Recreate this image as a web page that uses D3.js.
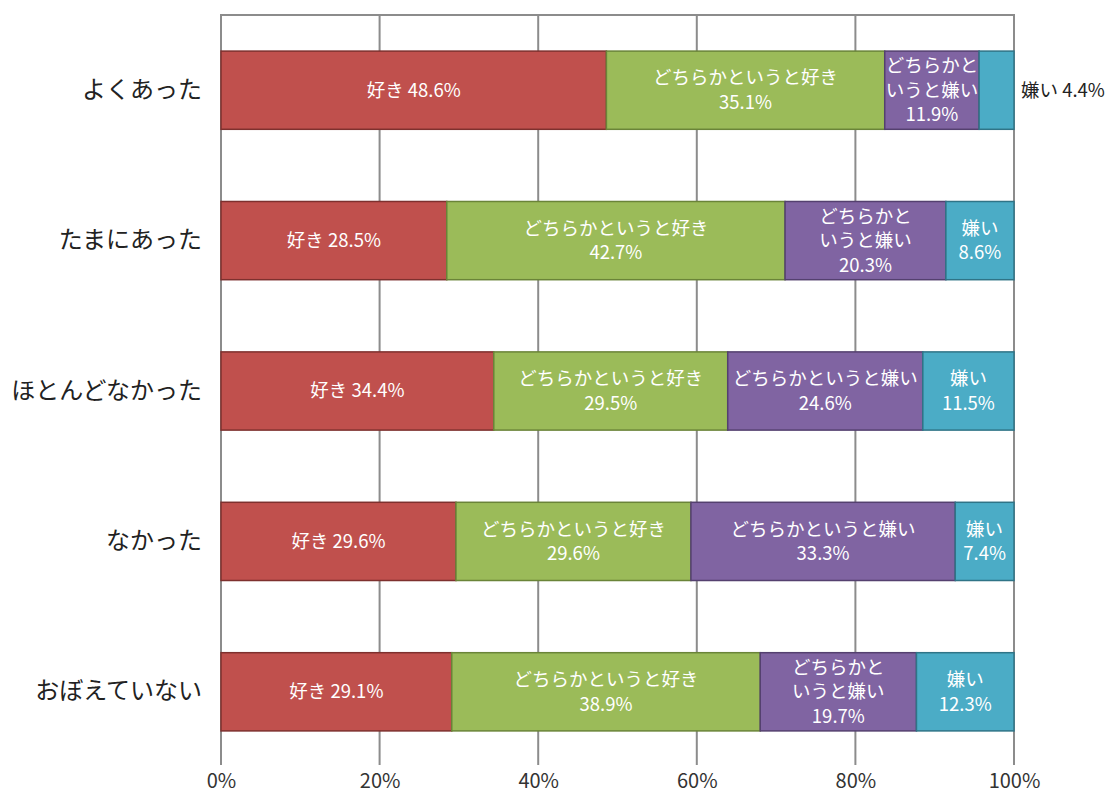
<!DOCTYPE html>
<html lang="ja">
<head>
<meta charset="utf-8">
<script src="https://cdn.jsdelivr.net/npm/d3@7"></script>
<style>
  html, body { margin: 0; padding: 0; background: #fff; }
  svg { display: block; font-family: "Noto Sans CJK JP", "Noto Sans", sans-serif; }
</style>
</head>
<body>
<svg id="chart" width="1116" height="795"></svg>
<script>
// Survey rows (top to bottom) and answer shares in percent
const categories = ["よくあった", "たまにあった", "ほとんどなかった", "なかった", "おぼえていない"];
const seriesNames = ["好き", "どちらかというと好き", "どちらかというと嫌い", "嫌い"];
const like          = [48.6, 28.5, 34.4, 29.6, 29.1];
const ratherLike    = [35.1, 42.7, 29.5, 29.6, 38.9];
const ratherDislike = [11.9, 20.3, 24.6, 33.3, 19.7];
const dislike       = [4.4, 8.6, 11.5, 7.4, 12.3];
const xTickValues   = [0, 20, 40, 60, 80, 100];
const xTickLabels   = ["0%", "20%", "40%", "60%", "80%", "100%"];

const fills   = ["#C0504D", "#9BBB59", "#8064A2", "#4BACC6"];
const strokes = ["#7E302E", "#6A8438", "#54406F", "#2F7487"];

const seriesValues = [like, ratherLike, ratherDislike, dislike];
const rows = categories.map((c, i) => {
  const r = { category: c };
  seriesNames.forEach((s, k) => { r[s] = seriesValues[k][i]; });
  return r;
});

const svg = d3.select("#chart");
const margin = { left: 221, right: 1014, top: 15, bottom: 767 };

const x = d3.scaleLinear().domain([0, 1]).range([margin.left, margin.right]);
const y = d3.scaleBand().domain(categories).range([margin.top, margin.bottom])
  .paddingInner(0.48).paddingOuter(0.24);

const stacked = d3.stack().keys(seriesNames).offset(d3.stackOffsetExpand)(rows);

// grid lines, extending below the plot as tick marks
const grid = svg.append("g");
grid.selectAll("line.v").data(xTickValues).join("line")
  .attr("x1", d => x(d / 100)).attr("x2", d => x(d / 100))
  .attr("y1", margin.top).attr("y2", 765)
  .attr("stroke", "#8C8C8C").attr("stroke-width", 2);
grid.append("line")
  .attr("x1", x(0) - 1).attr("x2", x(1) + 1)
  .attr("y1", margin.top).attr("y2", margin.top)
  .attr("stroke", "#8C8C8C").attr("stroke-width", 2);

// x axis labels
const xAxis = d3.axisBottom(x)
  .tickValues(xTickValues.map(d => d / 100))
  .tickFormat((d, i) => xTickLabels[i])
  .tickSize(0).tickPadding(0);
const xg = svg.append("g").attr("transform", "translate(0,774)").call(xAxis);
xg.select(".domain").remove();
xg.selectAll("text").attr("font-size", 20).attr("fill", "#333")
  .attr("font-family", "'Noto Sans CJK JP', sans-serif");

// category labels
const yAxis = d3.axisLeft(y).tickSize(0).tickPadding(0);
const yg = svg.append("g").attr("transform", "translate(202,0)").call(yAxis);
yg.select(".domain").remove();
yg.selectAll("text").attr("font-size", 24).attr("fill", "#222")
  .attr("font-family", "'Noto Sans CJK JP', sans-serif");

// bars
const layers = svg.append("g").selectAll("g").data(stacked).join("g")
  .attr("fill", (d, i) => fills[i]).attr("stroke", (d, i) => strokes[i]);
layers.selectAll("rect").data(d => d.map(p => ({ p, key: d.key }))).join("rect")
  .attr("x", d => x(d.p[0]))
  .attr("width", d => x(d.p[1]) - x(d.p[0]))
  .attr("y", d => y(d.p.data.category))
  .attr("height", y.bandwidth())
  .attr("stroke-width", 1.5);

// data labels: one line when short, else name / value, else name split in two
const labelSize = 18.5;
const lineGap = 24.5;
const measurer = svg.append("text").attr("font-size", labelSize).attr("visibility", "hidden");
const textWidth = s => { measurer.text(s); return measurer.node().getComputedTextLength(); };
const maxOneLine = 200;

const labelG = svg.append("g").attr("font-size", labelSize);
stacked.forEach(layer => {
  layer.forEach(p => {
    const name = layer.key;
    const value = p.data[name].toFixed(1) + "%";
    const x0 = x(p[0]), x1 = x(p[1]);
    const w = x1 - x0;
    const cy = y(p.data.category) + y.bandwidth() / 2;
    const full = name + " " + value;
    const chars = Array.from(name);
    const split = chars.length > 5
      ? [chars.slice(0, 5).join(""), chars.slice(5).join(""), value]
      : [name, value];
    const narrowest = d3.max(split, s => textWidth(s));
    let lines, anchor = "middle", tx = (x0 + x1) / 2, color = "#fff";
    if (narrowest > w) {
      lines = [full]; anchor = "start"; tx = x1 + 7; color = "#222";
    } else if (textWidth(full) <= Math.min(w - 8, maxOneLine)) {
      lines = [full];
    } else if (textWidth(name) <= w - 6) {
      lines = [name, value];
    } else {
      lines = split;
    }
    const t = labelG.append("text").attr("fill", color).attr("text-anchor", anchor);
    lines.forEach((ln, j) => {
      t.append("tspan").attr("x", tx)
        .attr("y", cy + (j - (lines.length - 1) / 2) * lineGap)
        .attr("dy", "0.35em").text(ln);
    });
  });
});
measurer.remove();
</script>
</body>
</html>
